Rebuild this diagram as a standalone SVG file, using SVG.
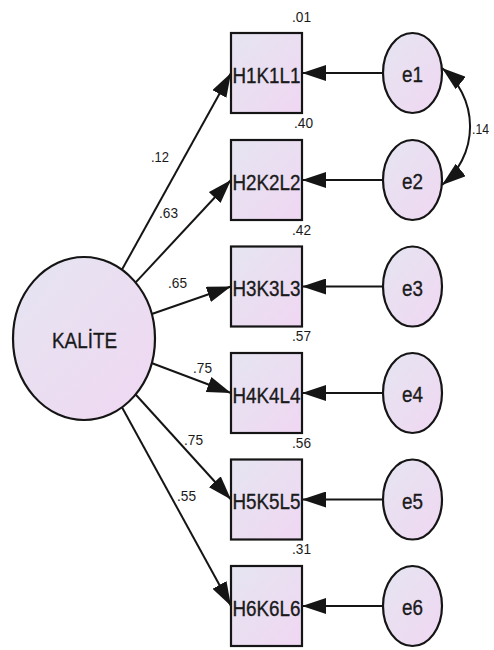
<svg xmlns="http://www.w3.org/2000/svg" width="494" height="650" viewBox="0 0 494 650">
  <style>
    .shape { fill: url(#fillGrad); stroke: #151515; stroke-width: 2.2; }
    .link { fill: none; stroke: #151515; stroke-width: 2; }
    .lbl { font-family: "Liberation Sans", Arial, sans-serif; fill: #1a1a1a; }
    .name { font-size: 22px; text-anchor: middle; stroke: #1a1a1a; stroke-width: 0.35; }
    .coef { font-size: 15px; }
  </style>
  <defs>
    <linearGradient id="fillGrad" x1="0" y1="0" x2="1" y2="1">
      <stop offset="0" stop-color="#e5e5f1"/>
      <stop offset="1" stop-color="#f0d7f2"/>
    </linearGradient>
    <marker id="head" viewBox="0 0 24 16" refX="24" refY="8" markerWidth="24" markerHeight="16" markerUnits="userSpaceOnUse" orient="auto-start-reverse">
      <path d="M0,0 L24,8 L0,16 Z" fill="#151515"/>
    </marker>
  </defs>

  <!-- connectors -->
  <g id="connectors">
    <!-- loadings from the latent factor -->
    <line class="link" x1="122" y1="269.6" x2="231" y2="73" marker-end="url(#head)"/>
    <line class="link" x1="135.7" y1="282.4" x2="231" y2="180" marker-end="url(#head)"/>
    <line class="link" x1="151.8" y1="314" x2="231" y2="286.5" marker-end="url(#head)"/>
    <line class="link" x1="151.5" y1="363" x2="231" y2="393" marker-end="url(#head)"/>
    <line class="link" x1="135.2" y1="394" x2="231" y2="499.5" marker-end="url(#head)"/>
    <line class="link" x1="121.7" y1="406.7" x2="231" y2="606" marker-end="url(#head)"/>
    <!-- error terms -->
    <line class="link" x1="383" y1="73" x2="302" y2="73" marker-end="url(#head)"/>
    <line class="link" x1="383" y1="180" x2="302" y2="180" marker-end="url(#head)"/>
    <line class="link" x1="383" y1="286.5" x2="302" y2="286.5" marker-end="url(#head)"/>
    <line class="link" x1="383" y1="393" x2="302" y2="393" marker-end="url(#head)"/>
    <line class="link" x1="383" y1="499.5" x2="302" y2="499.5" marker-end="url(#head)"/>
    <line class="link" x1="383" y1="606" x2="302" y2="606" marker-end="url(#head)"/>
    <!-- error covariance e1 <-> e2 -->
    <path class="link" d="M442,68 A75,75 0 0 1 442,185" marker-start="url(#head)" marker-end="url(#head)"/>

    <text class="lbl coef" x="151" y="162" textLength="18" lengthAdjust="spacingAndGlyphs">.12</text>
    <text class="lbl coef" x="159" y="218" textLength="19" lengthAdjust="spacingAndGlyphs">.63</text>
    <text class="lbl coef" x="168" y="288" textLength="19" lengthAdjust="spacingAndGlyphs">.65</text>
    <text class="lbl coef" x="193" y="373" textLength="19" lengthAdjust="spacingAndGlyphs">.75</text>
    <text class="lbl coef" x="184" y="445" textLength="19" lengthAdjust="spacingAndGlyphs">.75</text>
    <text class="lbl coef" x="177" y="501" textLength="19" lengthAdjust="spacingAndGlyphs">.55</text>
    <text class="lbl coef" x="472" y="134" textLength="17" lengthAdjust="spacingAndGlyphs">.14</text>
  </g>

  <!-- latent factor -->
  <g id="KALITE">
    <ellipse class="shape" cx="84" cy="338.5" rx="71" ry="81.5"/>
    <text class="lbl name" x="84.5" y="348" font-size="23" textLength="65" lengthAdjust="spacingAndGlyphs">KALİTE</text>
  </g>

  <!-- observed indicators -->
  <g id="H1K1L1">
    <rect class="shape" x="231" y="33" width="71" height="80"/>
    <text class="lbl name" x="266.5" y="82.5" textLength="68" lengthAdjust="spacingAndGlyphs">H1K1L1</text>
    <text class="lbl coef" x="292" y="22" textLength="19" lengthAdjust="spacingAndGlyphs">.01</text>
  </g>
  <g id="H2K2L2">
    <rect class="shape" x="231" y="140" width="71" height="80"/>
    <text class="lbl name" x="266.5" y="189.5" textLength="68" lengthAdjust="spacingAndGlyphs">H2K2L2</text>
    <text class="lbl coef" x="294" y="128" textLength="19" lengthAdjust="spacingAndGlyphs">.40</text>
  </g>
  <g id="H3K3L3">
    <rect class="shape" x="231" y="246.5" width="71" height="80"/>
    <text class="lbl name" x="266.5" y="296" textLength="68" lengthAdjust="spacingAndGlyphs">H3K3L3</text>
    <text class="lbl coef" x="292" y="235" textLength="19" lengthAdjust="spacingAndGlyphs">.42</text>
  </g>
  <g id="H4K4L4">
    <rect class="shape" x="231" y="353" width="71" height="80"/>
    <text class="lbl name" x="266.5" y="402.5" textLength="68" lengthAdjust="spacingAndGlyphs">H4K4L4</text>
    <text class="lbl coef" x="292" y="341" textLength="19" lengthAdjust="spacingAndGlyphs">.57</text>
  </g>
  <g id="H5K5L5">
    <rect class="shape" x="231" y="459.5" width="71" height="80"/>
    <text class="lbl name" x="266.5" y="509" textLength="68" lengthAdjust="spacingAndGlyphs">H5K5L5</text>
    <text class="lbl coef" x="292" y="448" textLength="19" lengthAdjust="spacingAndGlyphs">.56</text>
  </g>
  <g id="H6K6L6">
    <rect class="shape" x="231" y="566" width="71" height="80"/>
    <text class="lbl name" x="266.5" y="615.5" textLength="68" lengthAdjust="spacingAndGlyphs">H6K6L6</text>
    <text class="lbl coef" x="292" y="554" textLength="19" lengthAdjust="spacingAndGlyphs">.31</text>
  </g>

  <!-- error terms -->
  <g id="e1">
    <ellipse class="shape" cx="412.5" cy="73" rx="29.5" ry="40"/>
    <text class="lbl name" x="412.5" y="82" textLength="21" lengthAdjust="spacingAndGlyphs">e1</text>
  </g>
  <g id="e2">
    <ellipse class="shape" cx="412.5" cy="180" rx="29.5" ry="40"/>
    <text class="lbl name" x="412.5" y="189" textLength="21" lengthAdjust="spacingAndGlyphs">e2</text>
  </g>
  <g id="e3">
    <ellipse class="shape" cx="412.5" cy="286.5" rx="29.5" ry="40"/>
    <text class="lbl name" x="412.5" y="295.5" textLength="21" lengthAdjust="spacingAndGlyphs">e3</text>
  </g>
  <g id="e4">
    <ellipse class="shape" cx="412.5" cy="393" rx="29.5" ry="40"/>
    <text class="lbl name" x="412.5" y="402" textLength="21" lengthAdjust="spacingAndGlyphs">e4</text>
  </g>
  <g id="e5">
    <ellipse class="shape" cx="412.5" cy="499.5" rx="29.5" ry="40"/>
    <text class="lbl name" x="412.5" y="508.5" textLength="21" lengthAdjust="spacingAndGlyphs">e5</text>
  </g>
  <g id="e6">
    <ellipse class="shape" cx="412.5" cy="606" rx="29.5" ry="40"/>
    <text class="lbl name" x="412.5" y="615" textLength="21" lengthAdjust="spacingAndGlyphs">e6</text>
  </g>
</svg>
